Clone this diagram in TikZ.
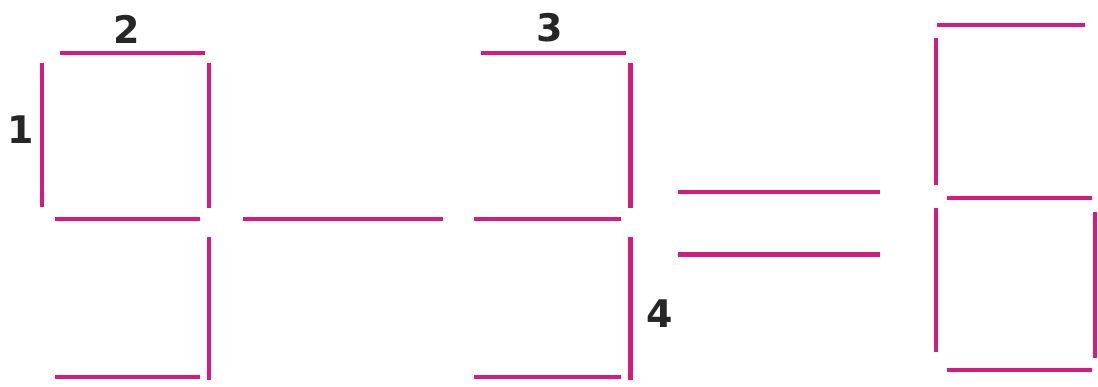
\documentclass[tikz,border=0pt]{standalone}
\usepackage{fontspec}
\setmainfont{DejaVu Sans}
\definecolor{stickpink}{RGB}{212,28,128}
\begin{document}
\begin{tikzpicture}[x=1pt,y=-1pt,
  stick/.style={draw=stickpink,line width=4pt},
  thick stick/.style={draw=stickpink,line width=5pt},
  lbl/.style={font=\fontsize{38}{40}\selectfont\bfseries,text=black!85,inner sep=0pt}]
\useasboundingbox (0,0) rectangle (1098,387);
% digit 9
\draw[stick] (60,53) -- (205,53);
\draw[stick] (42,63) -- (42,207);
\draw[stick] (209,63) -- (209,208);
\draw[stick] (55,219) -- (200,219);
\draw[stick] (209,237) -- (209,380);
\draw[stick] (55,377) -- (200,377);
\node[lbl] (l2) at (127,29) {2};
\node[lbl] (l1) at (21,130) {1};
% minus
\draw[stick] (243,219) -- (443,219);
% digit 3
\draw[stick] (481,53) -- (626,53);
\draw[thick stick] (630,63) -- (630,208);
\draw[stick] (474,219) -- (621,219);
\draw[thick stick] (630,237) -- (630,380);
\draw[stick] (474,377) -- (621,377);
\node[lbl] (l3) at (550,28) {3};
\node[lbl] (l4) at (660,314) {4};
% equals
\draw[stick] (678,192) -- (880,192);
\draw[thick stick] (678,255) -- (880,255);
% digit 6
\draw[stick] (937,25) -- (1085,25);
\draw[stick] (936,38) -- (936,185);
\draw[stick] (947,198) -- (1092,198);
\draw[stick] (936,208) -- (936,352);
\draw[stick] (1095,212) -- (1095,358);
\draw[stick] (947,370) -- (1092,370);
\end{tikzpicture}
\end{document}
